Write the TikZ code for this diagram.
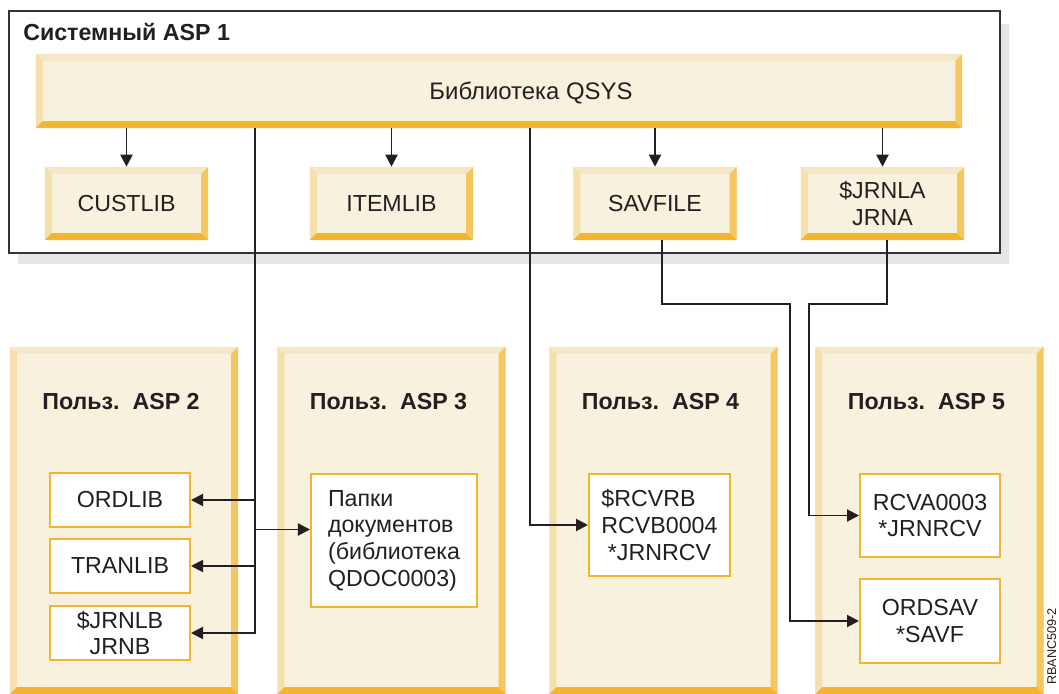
\documentclass[tikz,border=0pt]{standalone}
\usepackage{fontspec}
\setmainfont{Liberation Sans}
\usetikzlibrary{arrows.meta}

\definecolor{aspcream}{HTML}{F8F1DE}
\definecolor{aspedgetop}{HTML}{F6E8C6}
\definecolor{aspedgeleft}{HTML}{F5DFAA}
\definecolor{aspedgeright}{HTML}{F4C85E}
\definecolor{aspedgebottom}{HTML}{F3B530}
\definecolor{aspshadow}{HTML}{E6E6E6}
\definecolor{aspline}{HTML}{231F20}
\definecolor{aspborder}{HTML}{333333}

\newcommand\bevw{0.17cm}

\tikzset{
  bevbox/.style={fill=aspcream, inner sep=0pt, align=center, path picture={
    \fill[aspedgetop] (path picture bounding box.north west) -- (path picture bounding box.north east)
      -- ++(-\bevw,-\bevw) -- ([shift={(\bevw,-\bevw)}]path picture bounding box.north west) -- cycle;
    \fill[aspedgeleft] (path picture bounding box.north west) -- ([shift={(\bevw,-\bevw)}]path picture bounding box.north west)
      -- ([shift={(\bevw,\bevw)}]path picture bounding box.south west) -- (path picture bounding box.south west) -- cycle;
    \fill[aspedgeright] (path picture bounding box.north east) -- (path picture bounding box.south east)
      -- ([shift={(-\bevw,\bevw)}]path picture bounding box.south east) -- ([shift={(-\bevw,-\bevw)}]path picture bounding box.north east) -- cycle;
    \fill[aspedgebottom] (path picture bounding box.south west) -- (path picture bounding box.south east)
      -- ([shift={(-\bevw,\bevw)}]path picture bounding box.south east) -- ([shift={(\bevw,\bevw)}]path picture bounding box.south west) -- cycle;
  }},
  smallbox/.style={bevbox, minimum width=4.075cm, minimum height=1.825cm},
  aspbox/.style={bevbox, minimum width=5.7cm, minimum height=8.675cm},
  asptitle/.style={font=\fontsize{16.5}{19}\selectfont\bfseries},
  filebox/.style={draw=aspedgebottom, line width=1.4pt, fill=white, inner sep=0pt, minimum width=3.5cm, align=center},
  link/.style={draw=aspline, line width=1.4pt, -{Triangle[length=0.3cm,width=0.3cm]}}
}

\begin{document}
\begin{tikzpicture}[x=0.025cm, y=-0.025cm, font=\fontsize{16.5}{19}\selectfont, text=aspline]

  \useasboundingbox (0,0) rectangle (1059,694);

  % System ASP
  \fill[aspshadow] (18,24) rectangle (1009,264);
  \node[draw=aspborder, line width=1.4pt, fill=white, minimum width=24.775cm, minimum height=6.05cm] (sysasp) at (504.5,132) {};
  \node[asptitle, anchor=base west, inner xsep=0pt] (systitle) at (23,41) {Системный ASP 1};

  \node[bevbox, minimum width=23.15cm, minimum height=1.85cm] (qsys) at (499,91) {};
  \node[font=\fontsize{17}{19}\selectfont] (qsystext) at (531,93) {Библиотека QSYS};

  \node[smallbox] (custlib) at (126.5,203.5) {CUSTLIB};
  \node[smallbox] (itemlib) at (391.5,203.5) {ITEMLIB};
  \node[smallbox] (savfile) at (655,203.5) {SAVFILE};
  \node[smallbox] (jrnla) at (882.5,203.5) {\$JRNLA\\JRNA};

  \foreach \t in {custlib,itemlib,savfile,jrnla}
    \draw[link] (qsys.south -| \t.north) -- (\t.north);

  % User ASPs
  \foreach \n/\x in {2/124,3/391.5,4/663.5,5/929.5}{
    \node[aspbox] (asp\n) at (\x,520.5) {};
    \node[asptitle] (asptitle\n) at (\x-3,402) {Польз.\ \ ASP \n};
  }

  \node[filebox, minimum height=1.35cm] (ordlib) at (120,500) {ORDLIB};
  \node[filebox, minimum height=1.35cm] (tranlib) at (120,566) {TRANLIB};
  \node[filebox, minimum height=1.35cm] (jrnlb) at (120,633) {\$JRNLB\\JRNB};
  \node[filebox, minimum width=4.15cm, minimum height=3.325cm, align=left] (papki) at (394,540.5)
    {Папки\\документов\\(библиотека\\QDOC0003)};
  \node[filebox, minimum width=3.525cm, minimum height=2.55cm, align=left] (rcvrb) at (659.5,525)
    {\$RCVRB\\RCVB0004\\~*JRNRCV};
  \node[filebox, minimum height=2.075cm] (rcva) at (930,515.5) {RCVA0003\\*JRNRCV};
  \node[filebox, minimum height=2.1cm] (ordsav) at (930,621) {ORDSAV\\*SAVF};

  % Connectors
  \coordinate (libspine) at (255,633);
  \coordinate (papkiin) at ([yshift=0.275cm]papki.west);
  \draw[link] (qsys.south -| libspine) |- (jrnlb.east);
  \foreach \t in {ordlib,tranlib}
    \draw[link] (libspine |- \t.east) -- (\t.east);
  \draw[link] (libspine |- papkiin) -- (papkiin);

  \coordinate (rcvdrop) at (530,529);
  \draw[link] (qsys.south -| rcvdrop) |- (rcvrb.west);

  \coordinate (savbend) at (790,304);
  \coordinate (jrnbend) at (809,304);
  \draw[link] ([xshift=0.175cm]savfile.south) |- (savbend) |- (ordsav.west);
  \draw[link] ([xshift=0.11cm]jrnla.south) |- (jrnbend) |- (rcva.west);

  \node[rotate=90, anchor=base east, inner sep=0pt, font=\fontsize{9}{10}\selectfont] (figid) at (1056,608) {RBANC509-2};

\end{tikzpicture}
\end{document}
